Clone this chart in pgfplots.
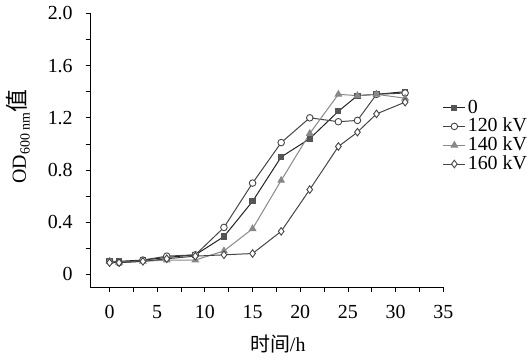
\documentclass[border=0pt]{standalone}
\usepackage{pgfplots}
\pgfplotsset{compat=1.18}
\usepackage{fontspec}
\setmainfont{Liberation Serif}
\newfontfamily\cjk{Noto Sans CJK SC}
\definecolor{cZero}{HTML}{222222}
\definecolor{cZeroM}{HTML}{555555}
\definecolor{cDark}{HTML}{444444}
\definecolor{cGray}{HTML}{888888}
\begin{document}
\fontsize{20bp}{24bp}\selectfont
\begin{tikzpicture}
\begin{axis}[
  scale only axis,
  width=354bp, height=275bp,
  xmin=-2, xmax=35, ymin=-0.1, ymax=2.0,
  axis x line=bottom, axis y line=left,
  axis line style={-, line width=1pt, black},
  tick align=outside,
  major tick length=5bp, minor tick length=5bp,
  tick style={line width=0.8pt, black},
  xtick={0,5,...,35}, minor xtick={2.5,7.5,...,32.5},
  ytick={0,0.4,0.8,1.2,1.6,2.0},
  yticklabels={0,0.4,0.8,1.2,1.6,2.0},
  minor ytick={0.2,0.6,1.0,1.4,1.8},
  /pgf/number format/assume math mode=true,
  ticklabel style={font=\fontsize{20bp}{24bp}\selectfont},
  xticklabel style={yshift=-6bp},
  yticklabel style={xshift=-6bp},
  xlabel={{\cjk 时间}/h},
  ylabel={\fontsize{20bp}{22bp}\selectfont OD\raisebox{-0.4ex}{\fontsize{14bp}{15bp}\selectfont 600 nm}{\fontsize{23bp}{24bp}\selectfont\cjk 值}},
  every axis x label/.style={at={(rel axis cs:0.531,-0.207)}, anchor=center},
  every axis y label/.style={at={(rel axis cs:-0.205,0.55)}, anchor=center, rotate=90},
  label style={font=\fontsize{20bp}{24bp}\selectfont},
  legend style={at={(0.99,0.70)}, anchor=north west, draw=none, fill=none,
    font=\fontsize{20bp}{24bp}\selectfont, row sep=-2bp},
  legend cell align=left,
  legend image code/.code={\draw[mark repeat=2, mark phase=2, #1] plot coordinates {(0bp,0bp) (11bp,0bp) (22bp,0bp)};},
]
\addplot[color=cZero, line width=1pt, mark=square*, mark size=2.6bp, mark options={fill=cZeroM, draw=cZeroM}] coordinates {
(0,0.10)(1,0.10)(3.5,0.11)(6,0.13)(9,0.15)(12,0.29)(15,0.56)(18,0.90)(21,1.04)(24,1.25)(26,1.37)(28,1.38)(31,1.40)};
\addlegendentry{0}
\addplot[color=cDark, line width=1pt, mark=*, mark size=3.3bp, mark options={fill=white, draw=cDark, line width=0.9pt}] coordinates {
(0,0.10)(1,0.09)(3.5,0.11)(6,0.14)(9,0.15)(12,0.36)(15,0.70)(18,1.01)(21,1.20)(24,1.17)(26,1.18)(28,1.38)(31,1.39)};
\addlegendentry{120 kV}
\addplot[color=cGray, line width=1pt, mark=triangle*, mark size=3.6bp, mark options={fill=cGray, draw=cGray}] coordinates {
(0,0.10)(1,0.09)(3.5,0.10)(6,0.11)(9,0.11)(12,0.18)(15,0.35)(18,0.72)(21,1.08)(24,1.38)(26,1.37)(28,1.38)(31,1.35)};
\addlegendentry{140 kV}
\addplot[color=cDark, line width=1pt, mark=diamond*, mark size=3.8bp, mark options={fill=white, draw=cDark, line width=0.9pt}] coordinates {
(0,0.09)(1,0.09)(3.5,0.10)(6,0.12)(9,0.14)(12,0.15)(15,0.16)(18,0.33)(21,0.65)(24,0.98)(26,1.09)(28,1.23)(31,1.32)};
\addlegendentry{160 kV}
\end{axis}
\end{tikzpicture}
\end{document}
